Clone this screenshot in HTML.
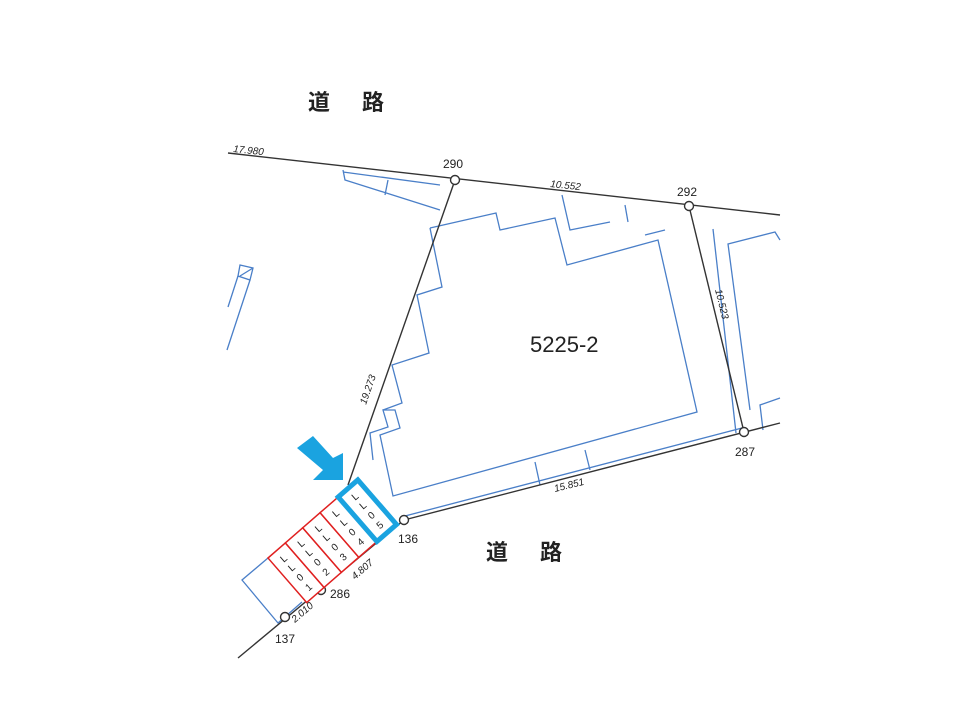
<!DOCTYPE html>
<html><head><meta charset="utf-8"><style>
html,body{margin:0;padding:0;background:#fff;}
svg{display:block;}
text{font-family:"Liberation Sans","Noto Sans CJK JP",sans-serif;fill:#222;}
</style></head><body>
<svg width="960" height="720" viewBox="0 0 960 720" xmlns="http://www.w3.org/2000/svg">
<g fill="none" stroke="#4a7fc8" stroke-width="1.3">
<polyline points="430,228 496,213 500,230 555,218 567,265 658,240 697,412 393,496 380,435 400,428 395,410 383,410 388,427 370,433 373,460"/>
<polyline points="430,228 442,287 417,295 429,353 392,365 402,403 383,410"/>
<polyline points="343,170 345,180 440,210"/>
<line x1="343" y1="172" x2="440" y2="185"/>
<line x1="388" y1="180" x2="385" y2="195"/>
<polyline points="562,195 570,230 610,222"/>
<line x1="625" y1="205" x2="628" y2="222"/>
<line x1="645" y1="235" x2="665" y2="230"/>
<polyline points="713,229 736,433"/>
<polyline points="780,240 775,232 728,244 750,410"/>
<polyline points="780,398 760,405 763,430"/>
<line x1="405" y1="516" x2="742" y2="428"/>
<line x1="535" y1="462" x2="540" y2="485"/>
<line x1="585" y1="450" x2="590" y2="470"/>
<polygon points="240,265 253,268 250,280 238,276"/>
<line x1="240" y1="276" x2="253" y2="268"/>
<line x1="238" y1="276" x2="228" y2="307"/>
<line x1="250" y1="280" x2="227" y2="350"/>
<polyline points="268,558 242,580 278,623 302,602"/>
</g>
<g stroke="#333" stroke-width="1.4" fill="none">
<line x1="228" y1="153" x2="780" y2="215"/>
<line x1="455" y1="180" x2="348" y2="485"/>
<line x1="689" y1="206" x2="744" y2="432"/>
<line x1="404" y1="520" x2="780" y2="423"/>
<line x1="238" y1="658" x2="404" y2="520"/>
<circle cx="455" cy="180" r="4.5" fill="#fff"/>
<circle cx="689" cy="206" r="4.5" fill="#fff"/>
<circle cx="744" cy="432" r="4.5" fill="#fff"/>
<circle cx="404" cy="520" r="4.5" fill="#fff"/>
<circle cx="285" cy="617" r="4.5" fill="#fff"/>
<circle cx="321" cy="590" r="4.5" fill="#fff"/>
</g>
<polygon points="297,448 313,436 333,458 343,453 343,480 313,480 323,470" fill="#1aa3e0"/>
<g transform="translate(268,558) rotate(-41)">
<g fill="#fff" stroke="#e02020" stroke-width="1.5">
<rect x="0" y="0" width="23" height="59"/>
<rect x="23" y="0" width="23" height="59"/>
<rect x="46" y="0" width="23" height="59"/>
<rect x="69" y="0" width="23" height="59"/>
</g>
<rect x="93" y="0" width="26" height="59" fill="#fff" stroke="#1aa3e0" stroke-width="5"/>
<g font-size="10" text-anchor="middle">
<text x="11.5" y="14">L</text><text x="11.5" y="26">L</text><text x="11.5" y="39">0</text><text x="11.5" y="52">1</text>
<text x="34.5" y="14">L</text><text x="34.5" y="26">L</text><text x="34.5" y="39">0</text><text x="34.5" y="52">2</text>
<text x="57.5" y="14">L</text><text x="57.5" y="26">L</text><text x="57.5" y="39">0</text><text x="57.5" y="52">3</text>
<text x="80.5" y="14">L</text><text x="80.5" y="26">L</text><text x="80.5" y="39">0</text><text x="80.5" y="52">4</text>
<text x="106" y="14">L</text><text x="106" y="26">L</text><text x="106" y="39">0</text><text x="106" y="52">5</text>
</g>
</g>
<text x="308" y="110" font-size="22" font-weight="bold">道</text>
<text x="362" y="110" font-size="22" font-weight="bold">路</text>
<text x="486" y="560" font-size="22" font-weight="bold">道</text>
<text x="540" y="560" font-size="22" font-weight="bold">路</text>
<text x="530" y="352" font-size="22">5225-2</text>
<text x="443" y="168" font-size="12">290</text>
<text x="677" y="196" font-size="12">292</text>
<text x="735" y="456" font-size="12">287</text>
<text x="398" y="543" font-size="12">136</text>
<text x="330" y="598" font-size="12">286</text>
<text x="275" y="643" font-size="12">137</text>
<g font-size="10" font-style="italic">
<text x="233" y="152" transform="rotate(6 233 152)">17.980</text>
<text x="550" y="187" transform="rotate(6 550 187)">10.552</text>
<text x="555" y="492" transform="rotate(-14 555 492)">15.851</text>
<text x="715" y="290" transform="rotate(76 715 290)">10.523</text>
<text x="366" y="405" transform="rotate(-71 366 405)">19.273</text>
<text x="355" y="580" transform="rotate(-41 355 580)">4.807</text>
<text x="295" y="623" transform="rotate(-41 295 623)">2.010</text>
</g>
</svg>
</body></html>
